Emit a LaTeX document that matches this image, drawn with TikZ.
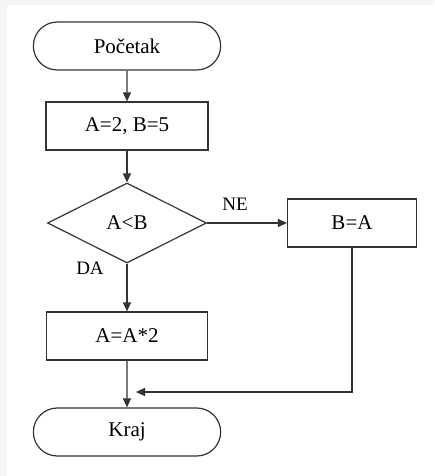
\documentclass[tikz,border=0pt]{standalone}
\usepackage{fontspec}
\setmainfont{Liberation Serif}
\usetikzlibrary{shapes,arrows.meta}

\begin{document}
\begin{tikzpicture}[x=1pt,y=-1pt]
		\tikzstyle {terminal} = [rounded rectangle, draw=black!80, line width=1.2pt, minimum width=194pt, minimum height=48pt]
		\tikzstyle {process} = [rectangle, draw=black!80, line width=1.2pt, minimum height=48pt]
		\tikzstyle {decision} = [diamond, draw=black!80, line width=1.2pt, minimum width=159pt, minimum height=80pt, inner sep=0pt]
		\tikzstyle {flow} = [draw=black!80, line width=1.2pt, -{Triangle[length=9pt,width=8pt]}]
		\tikzstyle {answer} = [font=\fontsize{19}{22}\selectfont]

		\useasboundingbox (0,0) rectangle (434,476);
		\fill[black!4] (0,0) rectangle (434,5);
		\fill[black!4] (0,0) rectangle (7,476);

		\begin{scope}[font=\fontsize{21}{25}\selectfont]
		\node[terminal] (start) at (127,46) {Početak};
		\node[process, minimum width=162pt] (init) at (127,126) {A=2, B=5};
		\node[decision] (test) at (127,223) {A<B};
		\node[process, minimum width=129pt] (swap) at (352,223) {B=A};
		\node[process, minimum width=161pt] (double) at (127,336) {A=A*2};
		\node[terminal] (stop) at (127,432) {Kraj};
		\end{scope}

		\node[answer] (ne) at (235,204) {NE};
		\node[answer] (da) at (90,268) {DA};
		\coordinate (merge) at (136,392);

		\draw[flow] (start) -- (init);
		\draw[flow] (init) -- (test);
		\draw[flow] (test.east) -- (swap.west);
		\draw[flow] (test.south) -- (double.north);
		\draw[flow] (double) -- (stop);
		\draw[flow] (swap.south) |- (merge);
	\end{tikzpicture}
\end{document}
